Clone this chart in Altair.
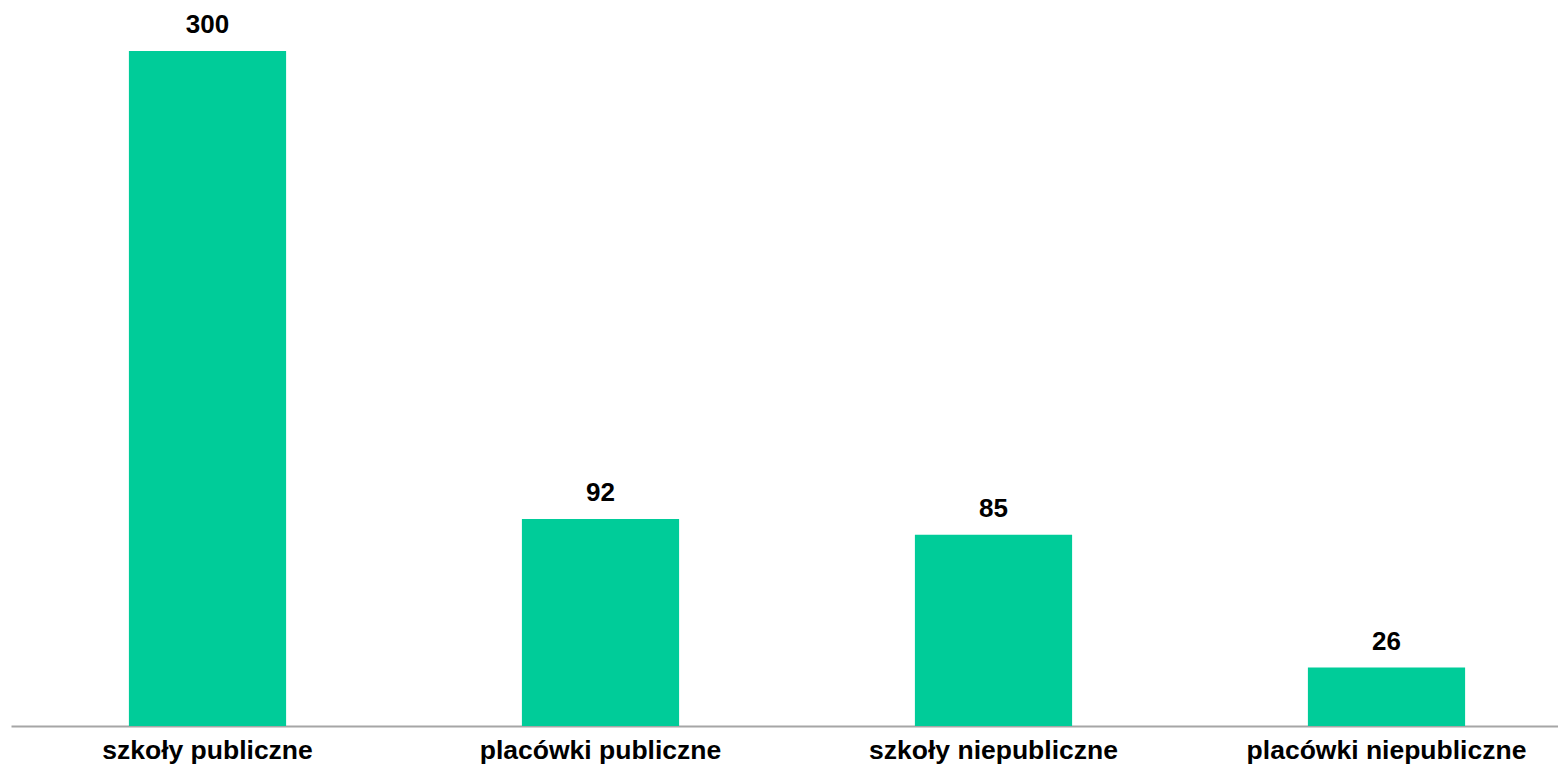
import altair as alt
import pandas as pd

categories = ["szkoły publiczne", "placówki publiczne", "szkoły niepubliczne", "placówki niepubliczne"]
values = [300, 92, 85, 26]

df = pd.DataFrame({"kategoria": categories, "liczba": values})

base = alt.Chart(df).encode(
    x=alt.X("kategoria:N", sort=categories, title=None,
            scale=alt.Scale(range=[0, 1572], paddingInner=0.6, paddingOuter=0.3),
            axis=alt.Axis(labelAngle=0, labelFont="Liberation Sans", labelFontSize=26.5,
                          labelFontWeight="bold", labelColor="#000000", labelPadding=11,
                          labelLimit=0, ticks=False, domainColor="#A6A6A6", domainWidth=2,
                          grid=False)),
    y=alt.Y("liczba:Q", title=None, scale=alt.Scale(domain=[0, 300], nice=False),
            axis=None),
)

bars = base.mark_bar(color="#00CC99")
text = base.mark_text(dy=-18, baseline="alphabetic", font="Liberation Sans", fontSize=26,
                      fontWeight="bold", color="#000000").encode(text="liczba:Q")

chart = (bars + text).properties(
    width=1547, height=675,
    autosize=alt.AutoSizeParams(type="none"),
    padding={"left": 3, "top": 43, "right": 0, "bottom": 39},
).configure_view(stroke=None)

chart.save("out.html", embed_options={"renderer": "svg", "actions": False})
